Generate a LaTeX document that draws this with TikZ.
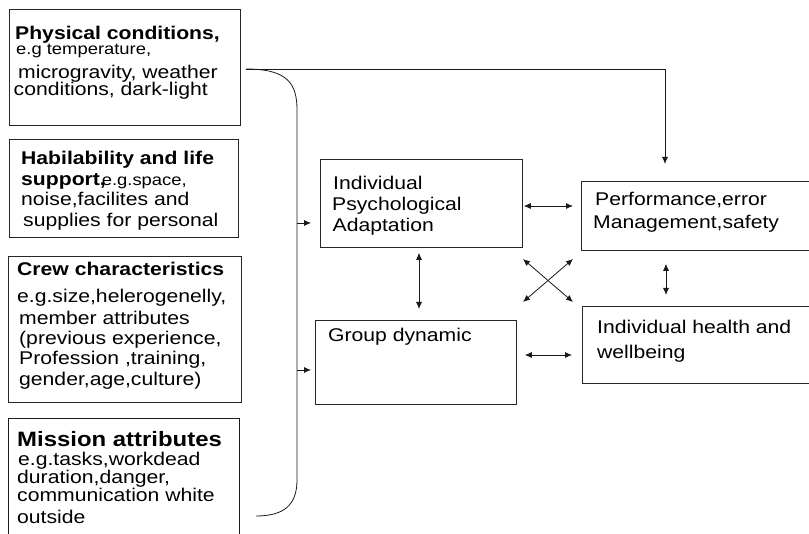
\documentclass[tikz,border=0pt]{standalone}
\usepackage{fontspec}
\setmainfont[FakeStretch=1.15]{Liberation Sans}
\usetikzlibrary{arrows.meta}
\begin{document}
\begin{tikzpicture}[x=1pt,y=-1pt,
  box/.style={draw=black!85, line width=0.8pt, anchor=north west, inner sep=0pt},
  txt/.style={anchor=base west, inner sep=0pt, font=\fontsize{18.4}{20}\selectfont, text=black},
  hd/.style={anchor=base west, inner sep=0pt, font=\fontsize{18.4}{20}\selectfont\bfseries, text=black},
  sm/.style={anchor=base west, inner sep=0pt, font=\fontsize{16}{18}\selectfont, text=black},
  conn/.style={line width=0.8pt, draw=black!90},
  arr/.style={conn, -{Latex[length=7pt,width=6pt]}},
  darr/.style={conn, {Latex[length=7pt,width=6pt]}-{Latex[length=7pt,width=6pt]}}]
\useasboundingbox (0,0) rectangle (809,534);
% left boxes
\node[box, minimum width=231pt, minimum height=116pt] (b1) at (9,9) {};
\node[box, minimum width=229pt, minimum height=98pt] (b2) at (9,139) {};
\node[box, minimum width=233pt, minimum height=146pt] (b3) at (8,256) {};
\draw[conn] (8,540) -- (8,418) -- (239,418) -- (239,540);
% right boxes
\node[box, minimum width=202pt, minimum height=88pt] (ipa) at (320,159) {};
\node[box, minimum width=240pt, minimum height=69pt] (perf) at (581,181) {};
\node[box, minimum width=201pt, minimum height=84pt] (grp) at (315,320) {};
\node[box, minimum width=240pt, minimum height=77pt] (hlth) at (582,306) {};
% box 1 text
\node[hd] (t11) at (15,39.5) {Physical conditions,};
\node[sm] (t12) at (16,55) {e.g temperature,};
\node[txt] (t13) at (18,79) {microgravity, weather};
\node[txt] (t14) at (13.5,96) {conditions, dark-light};
% box 2 text
\node[hd] (t21) at (21,165) {Habilability and life};
\node[hd] (t22) at (21,185.5) {support,\hspace{-4pt}{\fontsize{16}{18}\selectfont\mdseries e.g.space,}};
\node[txt] (t23) at (21,206) {noise,facilites and};
\node[txt] (t24) at (23,226.5) {supplies for personal};
% box 3 text
\node[hd] (t31) at (17,276) {Crew characteristics};
\node[txt] (t32) at (17,303) {e.g.size,helerogenelly,};
\node[txt] (t33) at (19,324.5) {member attributes};
\node[txt] (t34) at (19,345) {(previous experience,};
\node[txt] (t35) at (19,365) {Profession ,training,};
\node[txt] (t36) at (19,385.5) {gender,age,culture)};
% box 4 text
\node[hd, font=\fontsize{20.8}{22}\selectfont\bfseries] (t41) at (17,447) {Mission attributes};
\node[txt] (t42) at (18,466) {e.g.tasks,workdead};
\node[txt] (t43) at (17,483) {duration,danger,};
\node[txt] (t44) at (17,502) {communication white};
\node[txt] (t45) at (17,523) {outside};
% right box text
\node[txt] (i1) at (333,190) {Individual};
\node[txt] (i2) at (332,211) {Psychological};
\node[txt] (i3) at (332.5,231.5) {Adaptation};
\node[txt] (p1) at (595,206) {Performance,error};
\node[txt] (p2) at (593,229) {Management,safety};
\node[txt] (h1) at (597,334) {Individual health and};
\node[txt] (h2) at (597,359) {wellbeing};
\node[txt] (g1) at (328,342) {Group dynamic};
% bracket
\coordinate (btop) at (246,69);
\coordinate (bbot) at (256,516);
\draw[conn] (btop) .. controls (288,69) and (297,84) .. (297,110) -- (297,480)
  .. controls (297,505) and (284,516) .. (bbot);
% long connector to performance
\coordinate (pin) at (665,164);
\draw[arr] (btop) -| (pin);
% bracket arrows
\coordinate (a1s) at (297,223);
\draw[arr, shorten >=9pt] (a1s) -- (ipa.west |- a1s);
\coordinate (a2s) at (297,370);
\draw[arr, shorten >=4pt] (a2s) -- (grp.west |- a2s);
% relations
\coordinate (r1) at (523,206);
\draw[darr, shorten <=1pt, shorten >=8pt] (ipa.east |- r1) -- (perf.west |- r1);
\coordinate (r2) at (419,250);
\draw[darr, shorten <=5pt, shorten >=11pt] (ipa.south -| r2) -- (grp.north -| r2);
\coordinate (x1) at (523,259);
\coordinate (x2) at (573,302);
\coordinate (x3) at (573,259);
\coordinate (x4) at (523,302);
\draw[darr] (x1) -- (x2);
\draw[darr] (x3) -- (x4);
\coordinate (r3) at (666,260);
\draw[darr, shorten <=13pt, shorten >=11pt] (perf.south -| r3) -- (hlth.north -| r3);
\coordinate (r4) at (524,355);
\draw[darr, shorten <=8pt, shorten >=10pt] (grp.east |- r4) -- (hlth.west |- r4);
\end{tikzpicture}
\end{document}
